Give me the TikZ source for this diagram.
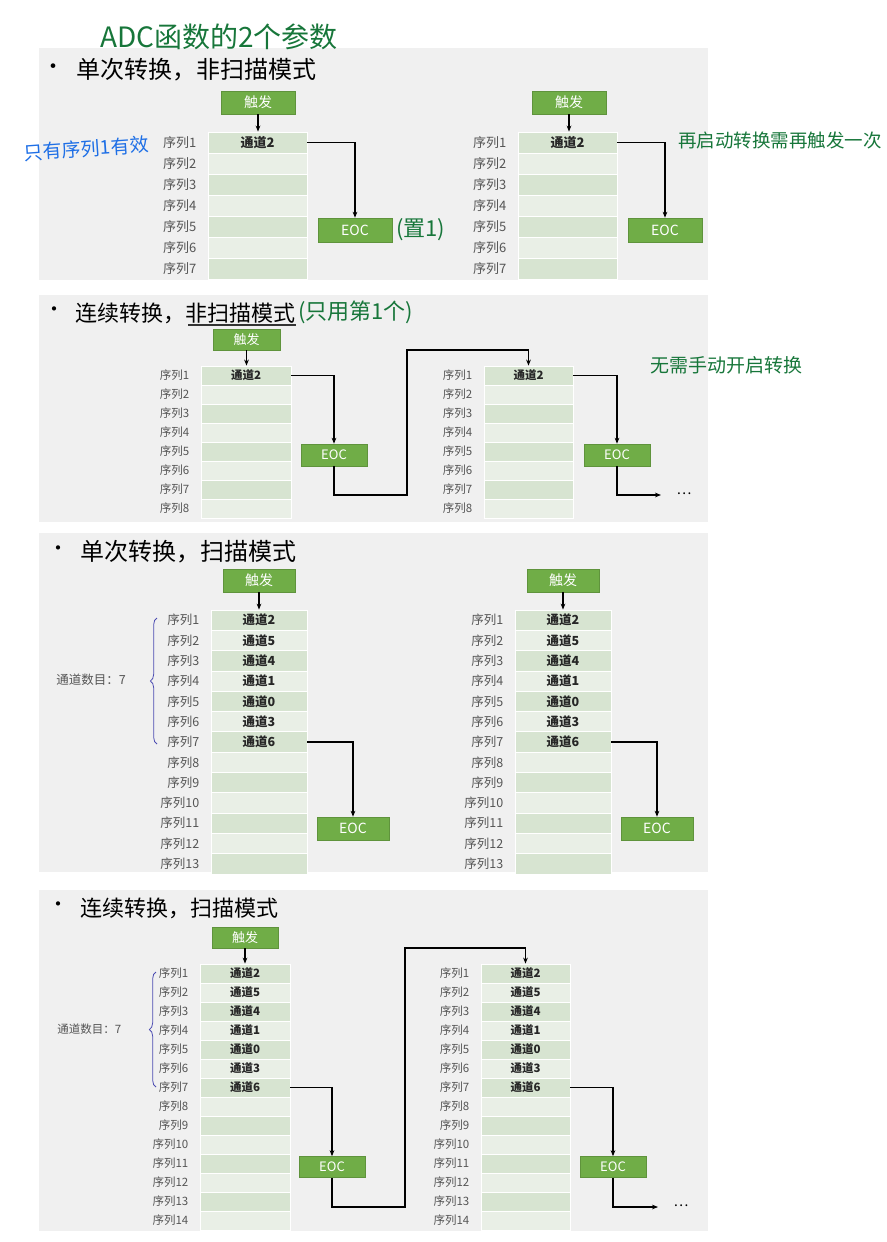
\documentclass[tikz,border=0pt]{standalone}
\usepackage{fontspec}
\setmainfont{Noto Sans CJK SC}
\usetikzlibrary{arrows.meta,decorations.pathreplacing}
\definecolor{bgc}{HTML}{F0F0F0}
\definecolor{darkc}{HTML}{D7E4D1}
\definecolor{lightc}{HTML}{E9EFE6}
\definecolor{gbox}{HTML}{70AD47}
\definecolor{hand}{HTML}{17763A}
\definecolor{handb}{HTML}{1E6FE6}
\definecolor{labc}{HTML}{555555}
\newcommand\px[1]{\pgfmathsetmacro\fsz{#1*0.75}\fontsize{\fsz pt}{\fsz pt}\selectfont}
\newcommand\seqtab[9]{%
 \foreach \i in {1,...,#6}{%
   \pgfmathsetmacro\yc{#4+(\i-0.5)*#5}%
   \ifodd\i\def\cc{darkc}\else\def\cc{lightc}\fi
   \node[cell, fill=\cc, minimum width=#3*0.75pt, minimum height=#5*0.75pt] (#1-\i) at ({#2+#3/2},\yc) {};
   \node[anchor=east, text=labc, font=\px{#7}, inner sep=0] (#1-l\i) at ([xshift=-#8*0.75pt]#1-\i.west) {序列\i};
 }%
 \foreach \c [count=\i] in {#9}{\node[font=\px{#7}\bfseries, text=black!85, inner sep=0] (#1-c\i) at (#1-\i) {通道\c};}%
}
\begin{document}
\begin{tikzpicture}[x=0.75pt,y=-0.75pt,
  cell/.style={draw=white, line width=0.6pt, inner sep=0},
  gnode/.style={fill=gbox, draw=gbox!85!black, line width=0.4pt, text=white, inner sep=0},
  arr/.style={-{Stealth[length=4.5pt,width=3.5pt]}, line width=1pt},
  ln/.style={line width=1pt},
  ttl/.style={anchor=west, inner sep=0},
  note/.style={text=hand, inner sep=0, anchor=west}]
\useasboundingbox (0,0) rectangle (887,1242);
% backgrounds
\fill[bgc] (39,48) rectangle (708,280);
\fill[bgc] (39,295) rectangle (708,522);
\fill[bgc] (39,533) rectangle (708,872);
\fill[bgc] (39,890) rectangle (708,1231);
% ---------- panel 1
\node[ttl, font=\px{22}] (b1) at (42,69) {•};
\node[ttl, font=\px{24}] (t1) at (76,70) {单次转换，非扫描模式};
\node[gnode, minimum width=74*0.75pt, minimum height=23*0.75pt, font=\px{14}] (tr1) at (258,102.5) {触发};
\seqtab{a}{208}{99}{132}{21}{7}{13}{11}{2}
\node[gnode, minimum width=74*0.75pt, minimum height=24*0.75pt, font=\px{14}] (eoc1) at (355,230) {EOC};
\draw[arr] (tr1.south) -- (a-1.north -| tr1.south);
\draw[arr] (a-1.east) -| (eoc1.north);
\node[gnode, minimum width=74*0.75pt, minimum height=23*0.75pt, font=\px{14}] (tr2) at (569,102.5) {触发};
\seqtab{b}{518}{99}{132}{21}{7}{13}{11}{2}
\node[gnode, minimum width=74*0.75pt, minimum height=24*0.75pt, font=\px{14}] (eoc2) at (665,230) {EOC};
\draw[arr] (tr2.south) -- (b-1.north -| tr2.south);
\draw[arr] (b-1.east) -| (eoc2.north);
% ---------- panel 2
\node[ttl, font=\px{20}] (b2) at (44,312) {•};
\node[ttl, font=\px{22}] (t2) at (75,313) {连续转换，非扫描模式};
\draw[ln, black!80] (188,325) -- (296,325);
\node[gnode, minimum width=67*0.75pt, minimum height=21*0.75pt, font=\px{13}] (tr3) at (246.5,339.5) {触发};
\seqtab{c}{201}{90}{366}{19}{8}{11.5}{11}{2}
\node[gnode, minimum width=66*0.75pt, minimum height=22*0.75pt, font=\px{13}] (eoc3) at (334,455) {EOC};
\draw[arr] (tr3.south) -- (c-1.north -| tr3.south);
\draw[arr] (c-1.east) -| (eoc3.north);
\seqtab{d}{484}{89}{366}{19}{8}{11.5}{11}{2}
\node[gnode, minimum width=66*0.75pt, minimum height=22*0.75pt, font=\px{13}] (eoc4) at (617,455) {EOC};
\coordinate (p2a) at (407,495);
\coordinate (p2b) at (407,350);
\draw[arr] (eoc3.south) |- (p2a) -- (p2b) -| (d-1.north);
\draw[arr] (d-1.east) -| (eoc4.north);
\coordinate (e4) at (661,495);
\draw[arr] (eoc4.south) |- (e4);
\node[font=\px{14}, inner sep=0] (dots1) at (684,494) {…};
% ---------- panel 3
\node[ttl, font=\px{20}] (b3) at (48,551) {•};
\node[ttl, font=\px{24}] (t3) at (80,552) {单次转换，扫描模式};
\node[gnode, minimum width=72*0.75pt, minimum height=23*0.75pt, font=\px{14}] (tr5) at (259,580.5) {触发};
\seqtab{e}{211}{96}{610}{20.3}{13}{12.5}{11}{2,5,4,1,0,3,6}
\node[gnode, minimum width=72*0.75pt, minimum height=23*0.75pt, font=\px{14}] (eoc5) at (353,828.5) {EOC};
\draw[arr] (tr5.south) -- (e-1.north -| tr5.south);
\draw[arr] (e-7.east) -| (eoc5.north);
\draw[decorate, decoration={brace, amplitude=5pt, mirror}, draw=blue!40!gray, line width=0.6pt] (157,618) -- (157,744);
\node[anchor=west, font=\px{12.5}, text=labc, inner sep=0] (cnt1) at (56,680) {通道数目：7};
\node[gnode, minimum width=72*0.75pt, minimum height=23*0.75pt, font=\px{14}] (tr6) at (563,580.5) {触发};
\seqtab{f}{515}{96}{610}{20.3}{13}{12.5}{11}{2,5,4,1,0,3,6}
\node[gnode, minimum width=72*0.75pt, minimum height=23*0.75pt, font=\px{14}] (eoc6) at (657,828.5) {EOC};
\draw[arr] (tr6.south) -- (f-1.north -| tr6.south);
\draw[arr] (f-7.east) -| (eoc6.north);
% ---------- panel 4
\node[ttl, font=\px{20}] (b4) at (48,907) {•};
\node[ttl, font=\px{22}] (t4) at (80,908) {连续转换，扫描模式};
\node[gnode, minimum width=66*0.75pt, minimum height=21*0.75pt, font=\px{13}] (tr7) at (245,937.5) {触发};
\seqtab{g}{200}{90}{964}{19}{14}{11.5}{11}{2,5,4,1,0,3,6}
\node[gnode, minimum width=66*0.75pt, minimum height=21*0.75pt, font=\px{13}] (eoc7) at (332,1167) {EOC};
\draw[arr] (tr7.south) -- (g-1.north -| tr7.south);
\draw[arr] (g-7.east) -| (eoc7.north);
\draw[decorate, decoration={brace, amplitude=5pt, mirror}, draw=blue!40!gray, line width=0.6pt] (156,972) -- (156,1087);
\node[anchor=west, font=\px{11.5}, text=labc, inner sep=0] (cnt2) at (57,1029) {通道数目：7};
\seqtab{h}{481}{89}{964}{19}{14}{11.5}{11}{2,5,4,1,0,3,6}
\node[gnode, minimum width=66*0.75pt, minimum height=21*0.75pt, font=\px{13}] (eoc8) at (613,1167) {EOC};
\coordinate (p4a) at (405,1207);
\coordinate (p4b) at (405,948);
\draw[arr] (eoc7.south) |- (p4a) -- (p4b) -| (h-1.north);
\draw[arr] (h-7.east) -| (eoc8.north);
\coordinate (e8) at (658,1207);
\draw[arr] (eoc8.south) |- (e8);
\node[font=\px{14}, inner sep=0] (dots2) at (681,1206) {…};
% ---------- handwritten notes
\node[note, font=\px{28}] (n1) at (100,37) {ADC函数的2个参数};
\node[note, text=handb, font=\px{19}, rotate=4] (n2) at (24,153) {只有序列1有效};
\node[note, font=\px{22}] (n3) at (396,230) {(置1)};
\node[note, font=\px{18.5}] (n4) at (678,140) {再启动转换需再触发一次};
\node[note, font=\px{22}] (n5) at (298,312) {(只用第1个)};
\node[note, font=\px{19}] (n6) at (650,365) {无需手动开启转换};
\end{tikzpicture}
\end{document}
